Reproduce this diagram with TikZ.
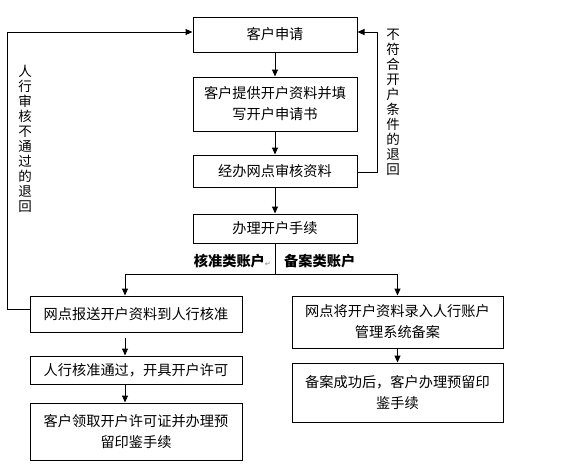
\documentclass[tikz,border=0pt]{standalone}
\usepackage{fontspec}
\setmainfont{Noto Sans CJK SC}
\newfontfamily\symfont{DejaVu Sans}
\usetikzlibrary{arrows.meta}
\begin{document}
\begin{tikzpicture}[x=1pt,y=-1pt,
  box/.style={draw=black,line width=1pt,minimum height=#1,inner sep=0pt,align=center,
    font=\fontsize{14.2}{21}\selectfont},
  box/.default=30pt,
  mainbox/.style={box=#1,minimum width=164pt},
  lbox/.style={box=#1,minimum width=212pt},
  rbox/.style={box=#1,minimum width=211pt},
  conn/.style={line width=1pt},
  arr/.style={conn,-{Triangle[length=7pt,width=6pt]}},
  vlab/.style={align=center,inner sep=0pt,font=\fontsize{13.5}{15}\selectfont},
  blab/.style={inner sep=0pt,font=\fontsize{14.2}{16}\selectfont\bfseries}]
\useasboundingbox (0,0) rectangle (564,467);
\node[mainbox=35pt] (b1) at (275,34.5) {客户申请};
\node[mainbox=54pt] (b2) at (275,104) {客户提供开户资料并填\\写开户申请书};
\node[mainbox=32pt] (b3) at (275,171) {经办网点审核资料};
\node[mainbox=29pt] (b4) at (275,228.5) {办理开户手续};
\node[lbox=36pt] (l1) at (136,314) {网点报送开户资料到人行核准};
\node[lbox=28pt] (l2) at (136,370) {人行核准通过，开具开户许可};
\node[lbox=57pt] (l3) at (136,431.5) {客户领取开户许可证并办理预\\留印鉴手续};
\node[rbox=52pt] (r1) at (397.5,322) {网点将开户资料录入人行账户\\管理系统备案};
\node[rbox=59pt] (r2) at (397.5,392.5) {备案成功后，客户办理预留印\\鉴手续};
\node[blab,anchor=east] (lk) at (271,261) {核准类账户{\symfont\mdseries\fontsize{7}{8}\selectfont\color{gray}↵}};
\node[blab,anchor=west] (lr) at (284,261) {备案类账户};
\node[vlab] (vl) at (25,139) {人\\行\\审\\核\\不\\通\\过\\的\\退\\回};
\node[vlab] (vr) at (393,102) {不\\符\\合\\开\\户\\条\\件\\的\\退\\回};
\coordinate (br) at (275,274);
\coordinate (bl) at (125,274);
\coordinate (brr) at (397.5,274);
\draw[arr] (b1) -- (b2);
\draw[arr] (b2) -- (b3);
\draw[arr] (b3) -- (b4);
\draw[conn] (b4.south) -- (br);
\draw[conn] (bl) -- (brr);
\draw[arr] (bl) -- (bl |- l1.north);
\draw[arr] (brr) -- (r1.north);
\draw[arr] ([yshift=-5pt]bl |- l1.south) -- (bl |- l2.north);
\draw[arr] (bl |- l2.south) -- (bl |- l3.north);
\draw[arr] (r1.south) -- (r2.north);
\draw[arr] ([yshift=5pt]l1.west) -- ++(-22,0) |- ([yshift=2.5pt]b1.west);
\draw[arr] ([yshift=-1pt]b3.east) -- (377,172) |- ([yshift=2.5pt]b1.east);
\end{tikzpicture}
\end{document}
